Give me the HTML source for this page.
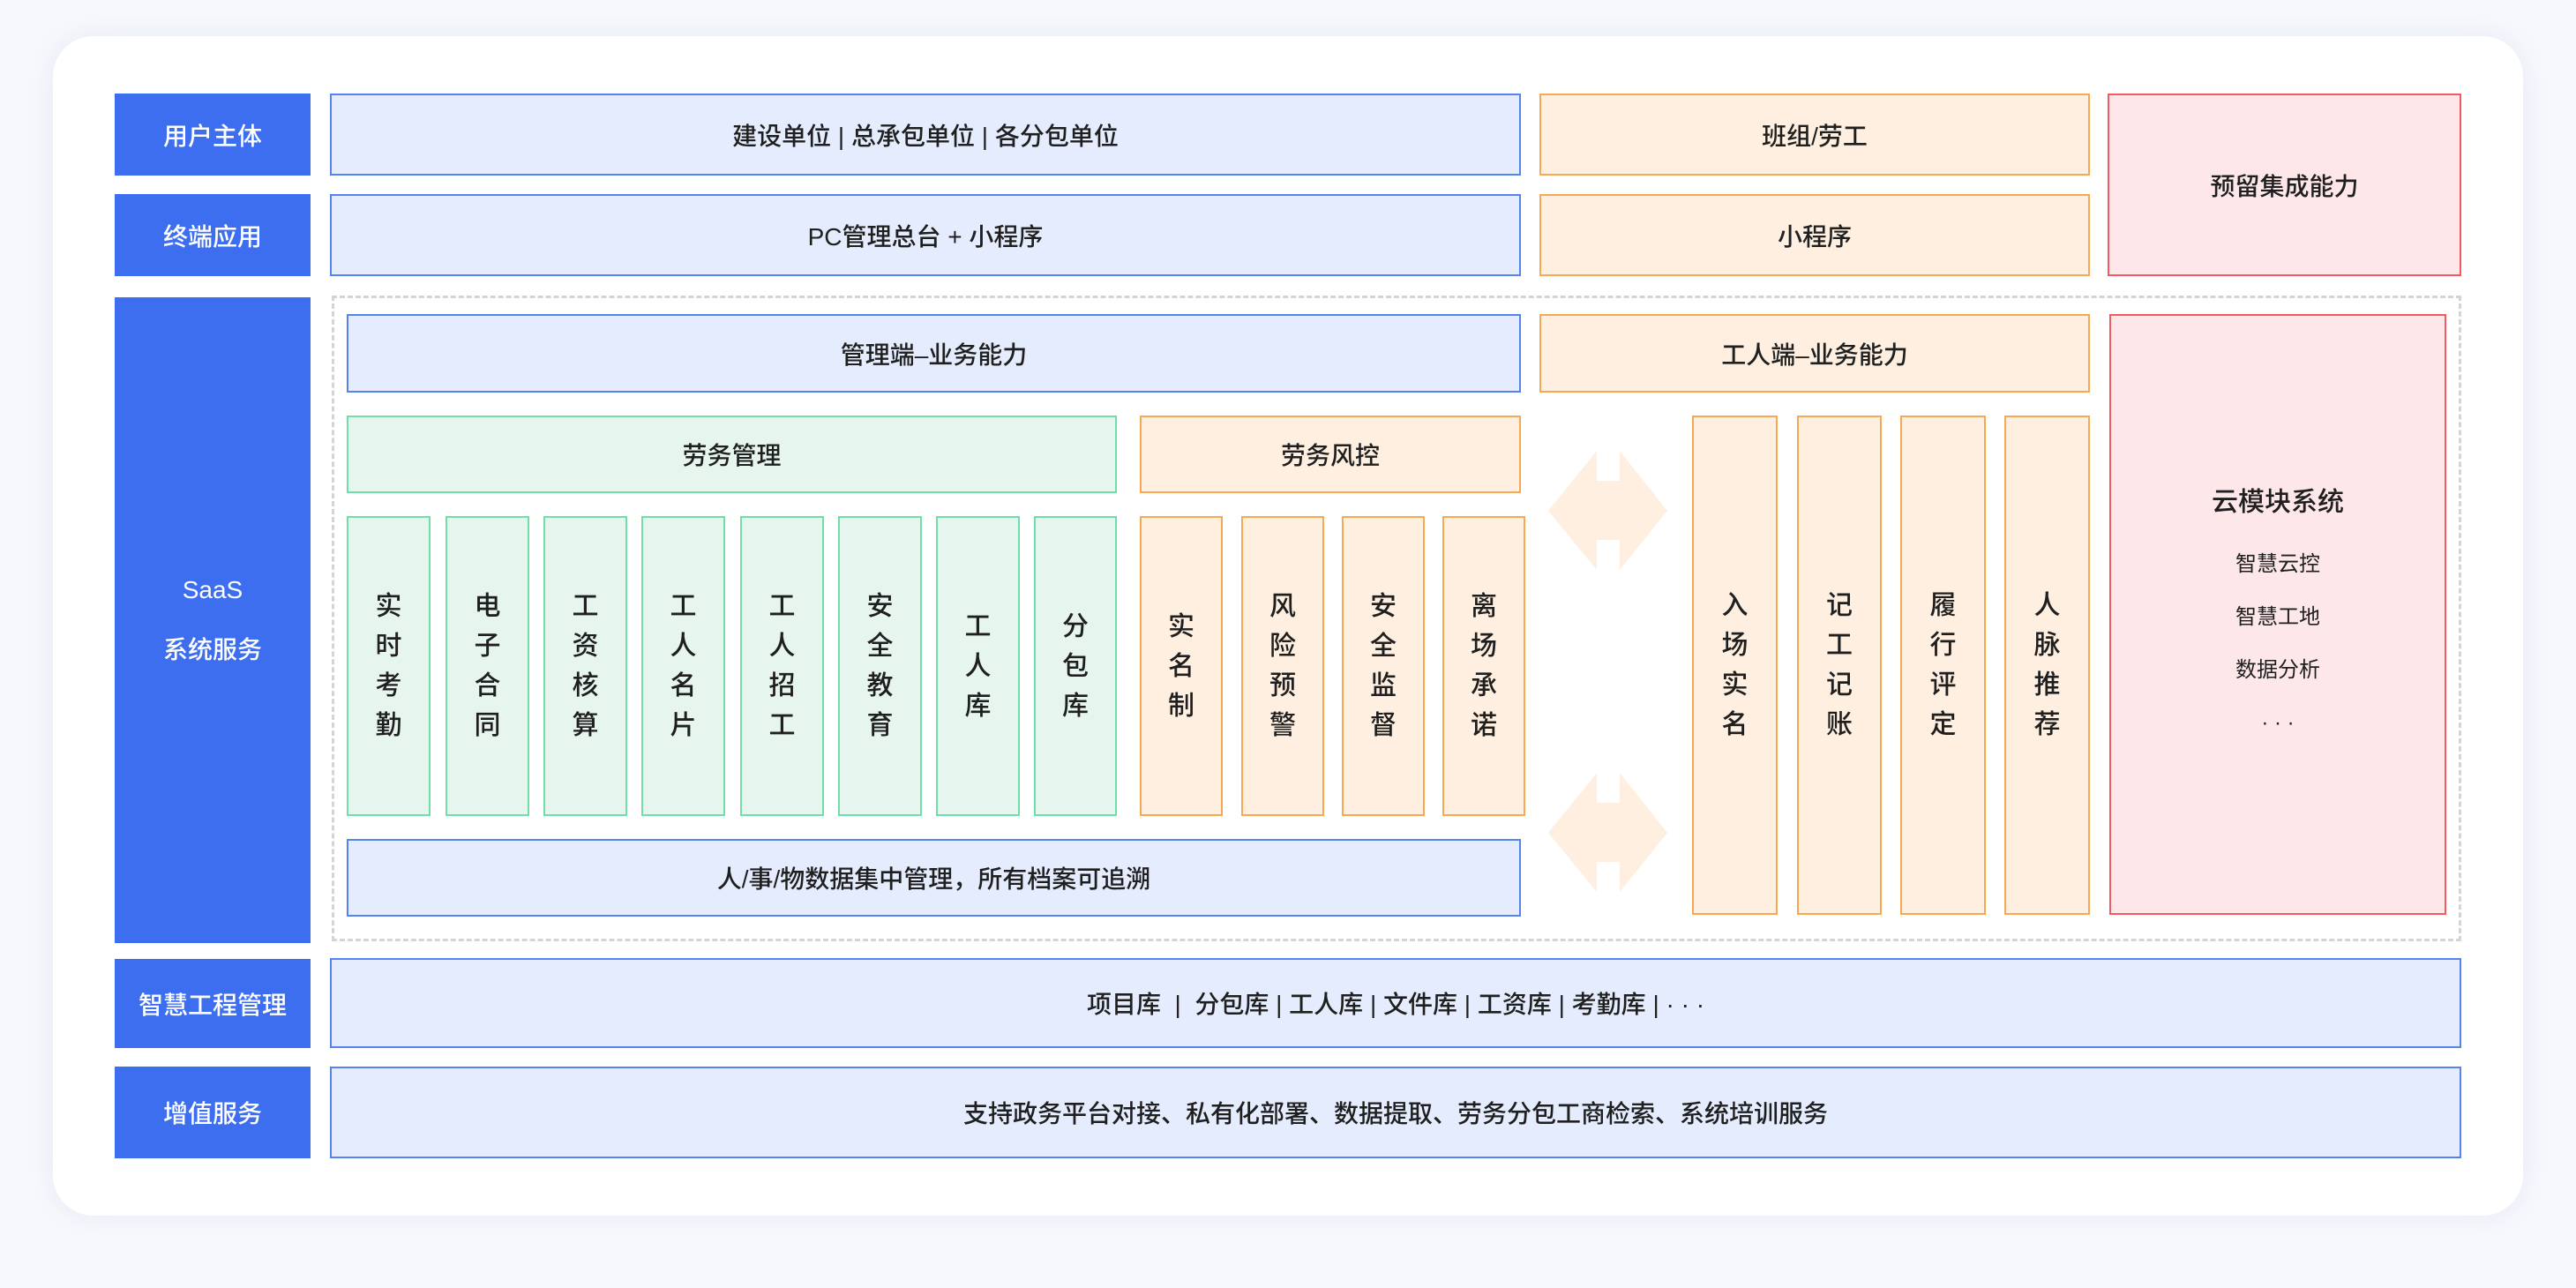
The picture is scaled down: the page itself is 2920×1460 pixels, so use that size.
<!DOCTYPE html>
<html><head><meta charset="utf-8"><style>
*{margin:0;padding:0;box-sizing:border-box}
body{width:2920px;height:1460px;background:#f7f8fc;position:relative;overflow:hidden;font-family:"Liberation Sans","Noto Sans CJK SC",sans-serif;color:#1f1f1f}
.card{position:absolute;left:60px;top:41px;width:2800px;height:1337px;background:#fff;border-radius:46px;box-shadow:0 0 30px rgba(200,210,235,.35)}
.b{position:absolute;display:flex;align-items:center;justify-content:center;text-align:center;font-size:28px;font-weight:500;border:2px solid}
.l{background:#3d6ef0;border:none;color:#fff}
.bl{background:#e4ecfd;border-color:#5583f0}
.gr{background:#e6f5ee;border-color:#6ddfa8}
.or{background:#feefe0;border-color:#f5a955}
.rd{background:#fde7e8;border-color:#f05a60}
.v{flex-direction:column;line-height:45px;font-size:30px}
.dash{position:absolute;left:376px;top:335px;width:2414px;height:732px;border:3px dashed #d4d4d4}
</style></head><body>
<div class="card"></div>
<div class="b l" style="left:130px;top:106px;width:222px;height:93px">用户主体</div>
<div class="b l" style="left:130px;top:220px;width:222px;height:93px">终端应用</div>
<div class="b l" style="left:130px;top:337px;width:222px;height:732px;line-height:68px">SaaS<br>系统服务</div>
<div class="b l" style="left:130px;top:1087px;width:222px;height:101px">智慧工程管理</div>
<div class="b l" style="left:130px;top:1209px;width:222px;height:104px">增值服务</div>

<div class="b bl" style="left:374px;top:106px;width:1350px;height:93px">建设单位 | 总承包单位 | 各分包单位</div>
<div class="b bl" style="left:374px;top:220px;width:1350px;height:93px">PC管理总台 + 小程序</div>
<div class="b or" style="left:1745px;top:106px;width:624px;height:93px">班组/劳工</div>
<div class="b or" style="left:1745px;top:220px;width:624px;height:93px">小程序</div>
<div class="b rd" style="left:2389px;top:106px;width:401px;height:207px">预留集成能力</div>

<div class="dash"></div>
<div class="b bl" style="left:393px;top:356px;width:1331px;height:89px">管理端–业务能力</div>
<div class="b or" style="left:1745px;top:356px;width:624px;height:89px">工人端–业务能力</div>
<div class="b rd" style="left:2391px;top:356px;width:382px;height:681px;flex-direction:column;font-size:30px">
<div style="margin-bottom:22px">云模块系统</div>
<div style="font-size:24px;line-height:60px;font-weight:400">智慧云控<br>智慧工地<br>数据分析<br>· · ·</div></div>

<div class="b gr" style="left:393px;top:471px;width:873px;height:88px">劳务管理</div>
<div class="b or" style="left:1292px;top:471px;width:432px;height:88px">劳务风控</div>

<div class="b gr v" style="left:393px;top:585px;width:95px;height:340px">实<br>时<br>考<br>勤</div>
<div class="b gr v" style="left:505px;top:585px;width:95px;height:340px">电<br>子<br>合<br>同</div>
<div class="b gr v" style="left:616px;top:585px;width:95px;height:340px">工<br>资<br>核<br>算</div>
<div class="b gr v" style="left:727px;top:585px;width:95px;height:340px">工<br>人<br>名<br>片</div>
<div class="b gr v" style="left:839px;top:585px;width:95px;height:340px">工<br>人<br>招<br>工</div>
<div class="b gr v" style="left:950px;top:585px;width:95px;height:340px">安<br>全<br>教<br>育</div>
<div class="b gr v" style="left:1061px;top:585px;width:95px;height:340px">工<br>人<br>库</div>
<div class="b gr v" style="left:1172px;top:585px;width:94px;height:340px">分<br>包<br>库</div>

<div class="b or v" style="left:1292px;top:585px;width:94px;height:340px">实<br>名<br>制</div>
<div class="b or v" style="left:1407px;top:585px;width:94px;height:340px">风<br>险<br>预<br>警</div>
<div class="b or v" style="left:1521px;top:585px;width:94px;height:340px">安<br>全<br>监<br>督</div>
<div class="b or v" style="left:1635px;top:585px;width:94px;height:340px">离<br>场<br>承<br>诺</div>

<div class="b bl" style="left:393px;top:951px;width:1331px;height:88px">人/事/物数据集中管理，所有档案可追溯</div>

<svg style="position:absolute;left:0;top:0" width="2920" height="1460">
<polygon fill="#feefe0" points="1755,579 1810,511 1810,545 1836,545 1836,511 1890,579 1836,646 1836,612 1810,612 1810,646"/>
<polygon fill="#feefe0" transform="translate(0,365)" points="1755,579 1810,511 1810,545 1836,545 1836,511 1890,579 1836,646 1836,612 1810,612 1810,646"/>
</svg>

<div class="b or v" style="left:1918px;top:471px;width:97px;height:566px">入<br>场<br>实<br>名</div>
<div class="b or v" style="left:2037px;top:471px;width:96px;height:566px">记<br>工<br>记<br>账</div>
<div class="b or v" style="left:2154px;top:471px;width:97px;height:566px">履<br>行<br>评<br>定</div>
<div class="b or v" style="left:2272px;top:471px;width:97px;height:566px">人<br>脉<br>推<br>荐</div>

<div class="b bl" style="left:374px;top:1086px;width:2416px;height:102px">项目库 &nbsp;|&nbsp; 分包库 | 工人库 | 文件库 | 工资库 | 考勤库 | · · ·</div>
<div class="b bl" style="left:374px;top:1209px;width:2416px;height:104px">支持政务平台对接、私有化部署、数据提取、劳务分包工商检索、系统培训服务</div>
</body></html>
